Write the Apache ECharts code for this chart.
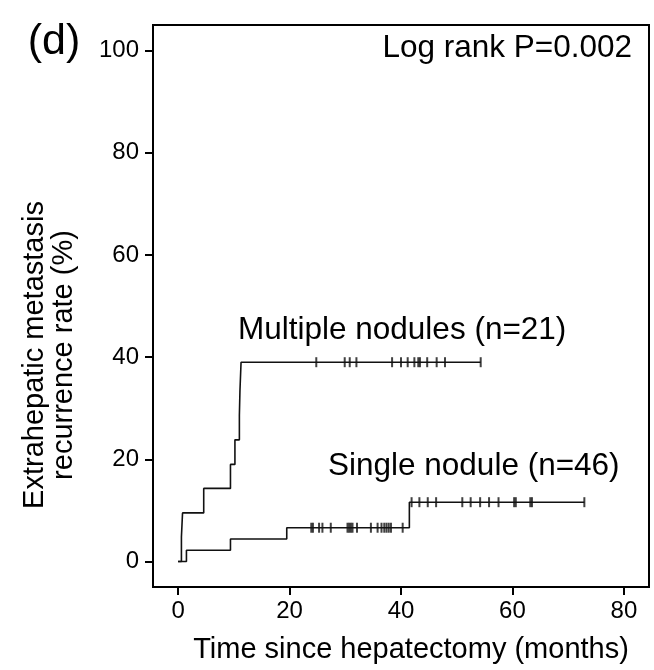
<!DOCTYPE html>
<html><head><meta charset="utf-8">
<script src="https://cdn.jsdelivr.net/npm/echarts@6/dist/echarts.min.js"></script>
<style>html,body{margin:0;padding:0;background:#fff}#c{width:654px;height:670px}</style>
</head><body><div id="c"></div>
<script>
// Multiple nodules (n=21): step points (months, cumulative recurrence %)
const multipleMonths = [0, 0.6, 0.8, 4.6, 9.4, 10.2, 11.0, 11.1, 11.3, 54.3];
const multipleRate   = [0, 4.8, 9.5, 14.3, 19.0, 23.8, 28.6, 33.3, 39.0, 39.0];
const multipleCensor = [24.8, 29.9, 30.8, 32.0, 38.4, 40.0, 41.2, 42.4, 43.1, 43.4, 44.7, 46.4, 47.9, 54.3];
// Single nodule (n=46)
const singleMonths = [0, 1.5, 9.4, 19.5, 41.5, 72.9];
const singleRate   = [0, 2.2, 4.4, 6.6, 11.6, 11.6];
const singleCensor = [23.9, 24.2, 25.3, 25.9, 27.4, 30.4, 30.7, 31.0, 31.3, 32.1, 34.6, 35.8, 36.5, 37.0, 37.4, 37.8, 38.2, 40.3,
                      41.9, 43.3, 44.8, 46.3, 51.0, 52.5, 54.2, 55.8, 57.5, 60.3, 60.6, 63.2, 63.5, 72.9];
// Axis ticks
const xTicks = [0, 20, 40, 60, 80];
const yTicks = [0, 20, 40, 60, 80, 100];

function stepValueAt(months, rates, t) {
  let v = rates[0];
  for (let i = 0; i < months.length; i++) { if (months[i] <= t) v = rates[i]; }
  return v;
}
const FONT = '"Liberation Sans", Arial, sans-serif';
const chart = echarts.init(document.getElementById('c'), null, {renderer: 'canvas'});
const lineStyle = {color: '#111', width: 1.6};
chart.setOption({
  animation: false,
  grid: {left: 153, right: 5, top: 25, bottom: 83, show: true, borderColor: '#000', borderWidth: 2, backgroundColor: 'transparent'},
  xAxis: {
    type: 'value', min: -4.5, max: 84.5,
    axisLine: {show: true, onZero: false, lineStyle: {color: '#000', width: 2}},
    axisTick: {show: true, customValues: xTicks, length: 8, lineStyle: {color: '#000', width: 2}},
    axisLabel: {customValues: xTicks, fontSize: 24, color: '#000', fontFamily: FONT, margin: 12},
    splitLine: {show: false}
  },
  yAxis: {
    type: 'value', min: -5, max: 105,
    axisLine: {show: true, onZero: false, lineStyle: {color: '#000', width: 2}},
    axisTick: {show: true, customValues: yTicks, length: 8, lineStyle: {color: '#000', width: 2}},
    axisLabel: {customValues: yTicks, fontSize: 24, color: '#000', fontFamily: FONT, margin: 14},
    splitLine: {show: false}
  },
  series: [
    {type: 'line', step: 'end', symbol: 'none', lineStyle: lineStyle,
     data: multipleMonths.map((m, i) => [m, multipleRate[i]])},
    {type: 'line', step: 'end', symbol: 'none', lineStyle: lineStyle,
     data: singleMonths.map((m, i) => [m, singleRate[i]])},
    {type: 'scatter', symbol: 'rect', symbolSize: [2, 10], itemStyle: {color: '#111'},
     data: multipleCensor.map(t => [t, stepValueAt(multipleMonths, multipleRate, t)])},
    {type: 'scatter', symbol: 'rect', symbolSize: [2, 10], itemStyle: {color: '#111'},
     data: singleCensor.map(t => [t, stepValueAt(singleMonths, singleRate, t)])}
  ],
  graphic: [
    {type: 'text', x: 54, y: 42, style: {text: '(d)', font: '43px ' + FONT, fill: '#000', align: 'center', verticalAlign: 'middle'}},
    {type: 'text', x: 632, y: 48, style: {text: 'Log rank P=0.002', font: '31.5px ' + FONT, fill: '#000', align: 'right', verticalAlign: 'middle'}},
    {type: 'text', x: 238, y: 330, style: {text: 'Multiple nodules (n=21)', font: '31.5px ' + FONT, fill: '#000', align: 'left', verticalAlign: 'middle'}},
    {type: 'text', x: 328, y: 466, style: {text: 'Single nodule (n=46)', font: '31.5px ' + FONT, fill: '#000', align: 'left', verticalAlign: 'middle'}},
    {type: 'text', x: 411, y: 650, style: {text: 'Time since hepatectomy (months)', font: '29px ' + FONT, fill: '#000', align: 'center', verticalAlign: 'middle'}},
    {type: 'text', x: 35, y: 355, rotation: Math.PI / 2, style: {text: 'Extrahepatic metastasis', font: '29px ' + FONT, fill: '#000', align: 'center', verticalAlign: 'middle'}},
    {type: 'text', x: 64, y: 355, rotation: Math.PI / 2, style: {text: 'recurrence rate (%)', font: '29px ' + FONT, fill: '#000', align: 'center', verticalAlign: 'middle'}}
  ]
});
</script></body></html>
